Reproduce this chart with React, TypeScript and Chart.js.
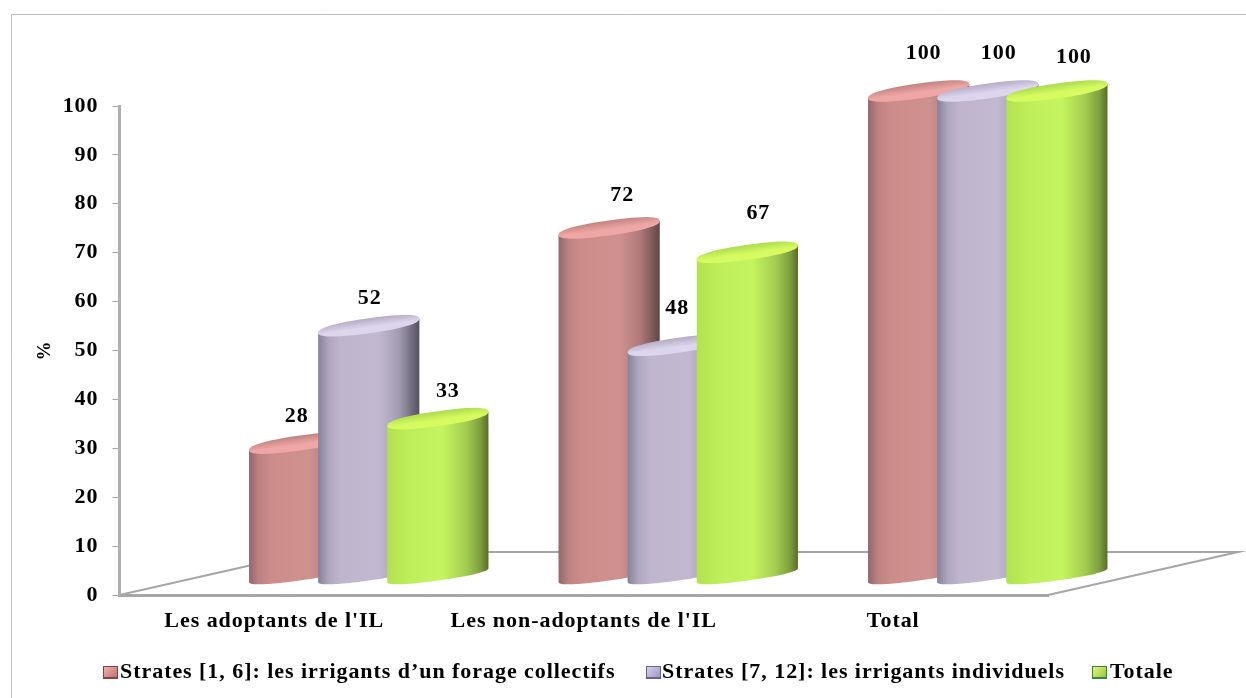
import React, { useEffect, useRef } from "react";
import { Chart, registerables } from "chart.js";

Chart.register(...registerables);

const categories = ["Les adoptants de l'IL", "Les non-adoptants de l'IL", "Total"];
const seriesNames = [
  "Strates [1, 6]: les irrigants d’un forage collectifs",
  "Strates [7, 12]: les irrigants individuels",
  "Totale",
];
const collectifs = [28, 72, 100];
const individuels = [52, 48, 100];
const totale = [33, 67, 100];

const FONT = '"Liberation Serif", "Times New Roman", serif';
const GREY = "#A6A6A6";

// Depth of the floor, and where the cylinders stand on it.
const FLOOR_DX = 190;
const FLOOR_DY = -43;
const BAR_DX = 94.5;
const BASE_DY = -19.5;
const TOP_DY = -15;
const TILT = 7;
const CAP_MINOR = 7.5;
const BASE_MINOR = 5.5;
const RING_POWER = 0.85;

type Stop = [number, string];
const shades: { body: Stop[]; capTop: string; capLow: string }[] = [
  {
    body: [[0, "#93676A"], [0.1, "#BD8282"], [0.22, "#CC8C8A"], [0.6, "#CF918F"], [0.8, "#B07B7A"], [0.93, "#7E5A5A"], [1, "#5F4545"]],
    capTop: "#BF8280",
    capLow: "#EFA7A5",
  },
  {
    body: [[0, "#85819A"], [0.1, "#ACA6BC"], [0.22, "#BFB6CE"], [0.6, "#C2B9D1"], [0.8, "#A29BB0"], [0.93, "#6F6B7C"], [1, "#55515F"]],
    capTop: "#B3ABC2",
    capLow: "#DDD5EE",
  },
  {
    body: [[0, "#B2E24F"], [0.22, "#BEEE5A"], [0.55, "#C4F45E"], [0.78, "#A3CC50"], [0.92, "#7E9E3D"], [1, "#566E28"]],
    capTop: "#ABDA4E",
    capLow: "#D6FB60",
  },
];
const swatchEdges = ["#8C3F3E", "#6A5F96", "#2E8B3A"];
const swatchFills = [["#EDB6B4", "#C06D6B"], ["#DDD6F0", "#9A8FBE"], ["#F2F57A", "#8CC63F"]];

// Hand placement of each value label relative to the middle of its cylinder top.
const labelNudges: [number, number][][] = [
  [[-3, -27], [1, -27], [10, -27]],
  [[13, -33], [-1, -37], [11, -39]],
  [[5, -38], [11, -38], [17, -34]],
];

function signedPow(v: number): number {
  return Math.sign(v) * Math.pow(Math.abs(v), RING_POWER);
}

function traceArc(ctx: CanvasRenderingContext2D, cx: number, cy: number, a: number, minor: number, from: number, to: number) {
  const steps = 48;
  for (let i = 0; i <= steps; i++) {
    const t = from + ((to - from) * i) / steps;
    const u = signedPow(Math.cos(t));
    const v = signedPow(Math.sin(t));
    ctx.lineTo(cx + a * u, cy - TILT * u + minor * v);
  }
}

const cylinderPlugin = {
  id: "cylinders",
  beforeDraw(chart: Chart) {
    // Spreads the serif glyphs out a little for every text the chart draws.
    (chart.ctx as any).letterSpacing = "0.95px";
  },
  beforeDatasetsDraw(chart: Chart) {
    const { ctx, chartArea: area } = chart;
    ctx.save();
    // Page frame, then the edges of the floor behind the bars.
    ctx.strokeStyle = "#BFBFBF";
    ctx.lineWidth = 1;
    ctx.beginPath();
    ctx.moveTo(11.5, 698);
    ctx.lineTo(11.5, 14.5);
    ctx.lineTo(1246, 14.5);
    ctx.stroke();
    ctx.strokeStyle = GREY;
    ctx.lineWidth = 2;
    ctx.beginPath();
    ctx.moveTo(area.left, area.bottom);
    ctx.lineTo(area.left + FLOOR_DX, area.bottom + FLOOR_DY);
    ctx.lineTo(area.right + FLOOR_DX, area.bottom + FLOOR_DY);
    ctx.lineTo(area.right, area.bottom);
    ctx.stroke();
    ctx.restore();
  },
  afterDatasetsDraw(chart: Chart) {
    const { ctx } = chart;
    ctx.save();
    chart.data.datasets.forEach((ds, di) => {
      const shade = shades[di];
      chart.getDatasetMeta(di).data.forEach((bar: any) => {
        const a = bar.width / 2;
        const cx = bar.x + BAR_DX;
        const base = bar.base + BASE_DY;
        const top = bar.y + TOP_DY;

        const side = ctx.createLinearGradient(cx - a, 0, cx + a, 0);
        shade.body.forEach(([at, col]) => side.addColorStop(at, col));
        ctx.beginPath();
        ctx.moveTo(cx - a, top + TILT);
        traceArc(ctx, cx, base, a, BASE_MINOR, Math.PI, 0);
        ctx.lineTo(cx + a, top - TILT);
        ctx.closePath();
        ctx.fillStyle = side;
        ctx.fill();

        // Lid: darker at the far rim, brightest just before it meets the side.
        // The gradient runs square to the tilt of the rim.
        const lean = (TILT / a) * CAP_MINOR;
        const lid = ctx.createLinearGradient(cx - lean, top - CAP_MINOR, cx + lean, top + CAP_MINOR);
        lid.addColorStop(0, shade.capTop);
        lid.addColorStop(0.6, shade.capLow);
        lid.addColorStop(1, shade.capLow);
        ctx.beginPath();
        traceArc(ctx, cx, top, a, CAP_MINOR, 0, Math.PI * 2);
        ctx.closePath();
        ctx.fillStyle = lid;
        ctx.fill();
      });
    });

    // Value labels above each cylinder.
    ctx.fillStyle = "#000";
    ctx.font = `bold 22px ${FONT}`;
    ctx.textAlign = "center";
    ctx.textBaseline = "middle";
    chart.data.datasets.forEach((ds, di) => {
      chart.getDatasetMeta(di).data.forEach((bar: any, i: number) => {
        const [nx, ny] = labelNudges[i][di];
        ctx.fillText(String(ds.data[i]), bar.x + BAR_DX + nx, bar.y + TOP_DY + ny);
      });
    });

    // Legend row under the axis.
    const swatchX = [103, 646, 1092];
    const textX = [120, 662, 1110];
    chart.data.datasets.forEach((ds, di) => {
      const x = swatchX[di];
      const fill = ctx.createLinearGradient(x, 666, x + 14, 679);
      fill.addColorStop(0, swatchFills[di][0]);
      fill.addColorStop(1, swatchFills[di][1]);
      ctx.fillStyle = swatchEdges[di];
      ctx.fillRect(x, 666, 15, 13);
      ctx.fillStyle = fill;
      ctx.fillRect(x + 1, 667, 13, 10);
      ctx.fillStyle = "#000";
      ctx.textAlign = "left";
      ctx.fillText(String(ds.label), textX[di], 672);
    });
    ctx.restore();
  },
};

export default function App() {
  const canvasRef = useRef<HTMLCanvasElement>(null);

  useEffect(() => {
    const canvas = canvasRef.current!;
    const fontSpec = { family: FONT, size: 22, weight: "bold" as const };
    const series = [collectifs, individuels, totale];
    const chart = new Chart(canvas, {
      type: "bar",
      data: {
        labels: categories,
        datasets: series.map((data, i) => ({
          label: seriesNames[i],
          data,
          backgroundColor: "rgba(0,0,0,0)",
          categoryPercentage: 0.67,
          barPercentage: 1.464,
        })),
      },
      options: {
        animation: false,
        responsive: false,
        layout: { padding: { left: 29.5, top: 106, right: 198, bottom: 0 } },
        plugins: {
          legend: { display: false },
          tooltip: { enabled: false },
        },
        scales: {
          x: {
            afterFit: (s: any) => {
              s.height = 103;
            },
            grid: { display: false },
            border: { display: true, color: GREY, width: 3 },
            ticks: { color: "#000", font: fontSpec, padding: 5, maxRotation: 0 },
          },
          y: {
            min: 0,
            max: 100,
            afterFit: (s: any) => {
              s.width = 90;
            },
            grid: { display: true, drawOnChartArea: false, drawTicks: true, color: GREY, tickLength: 7, lineWidth: 1 },
            border: { display: true, color: "#B0B0B0", width: 3 },
            ticks: { color: "#000", font: fontSpec, stepSize: 10, padding: 14 },
            title: {
              display: true,
              text: "%",
              color: "#000",
              font: { family: FONT, size: 19, weight: "bold" as const },
              padding: { top: 4, bottom: 0 },
            },
          },
        },
      },
      plugins: [cylinderPlugin],
    });
    return () => chart.destroy();
  }, []);

  return (
    <div style={{ position: "fixed", inset: 0, background: "#fff" }}>
      <canvas ref={canvasRef} width={1246} height={698} style={{ display: "block" }} />
    </div>
  );
}
